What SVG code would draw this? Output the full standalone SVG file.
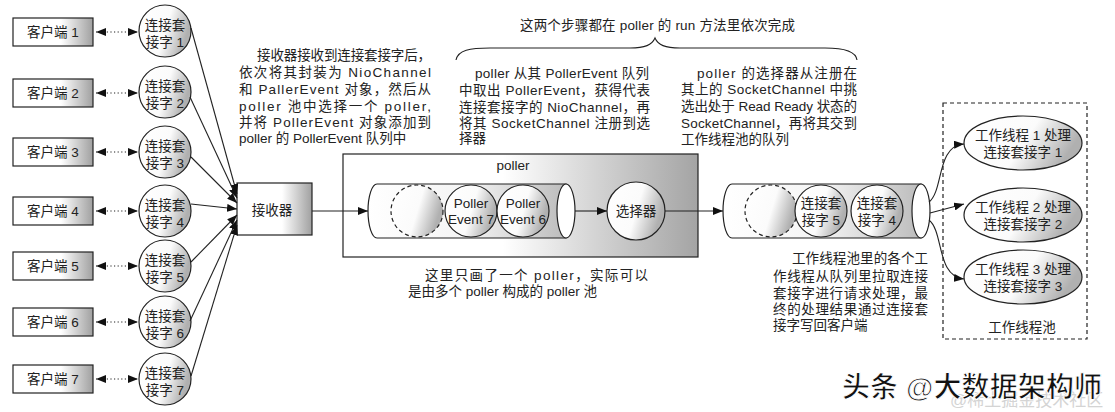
<svg xmlns="http://www.w3.org/2000/svg" width="1115" height="412" viewBox="0 0 1115 412">
<style>
text{font-family:"Liberation Sans","Noto Sans CJK SC",sans-serif;font-size:13.5px;fill:#222}
.c{text-anchor:middle}
.box{stroke:#222;stroke-width:1.2}
.ln{stroke:#222;stroke-width:1.1;fill:none}
.dot{stroke:#222;stroke-width:1.2;stroke-dasharray:1.2,2.4;fill:none}
.dash{stroke:#222;stroke-width:1.2;stroke-dasharray:4,3}
</style>
<defs>
<linearGradient id="gBox" x1="0" y1="0" x2="1" y2="0">
<stop offset="0" stop-color="#fff"/><stop offset="0.6" stop-color="#fff"/><stop offset="1" stop-color="#a0a0a0"/>
</linearGradient>
<linearGradient id="gCir" x1="0" y1="0" x2="1" y2="0.3">
<stop offset="0" stop-color="#fff"/><stop offset="0.6" stop-color="#fbfbfb"/><stop offset="1" stop-color="#b0b0b0"/>
</linearGradient>
<linearGradient id="gPoll" x1="0" y1="0" x2="1" y2="0">
<stop offset="0" stop-color="#fff"/><stop offset="0.45" stop-color="#fff"/><stop offset="1" stop-color="#a4a4a4"/>
</linearGradient>
<linearGradient id="gCyl" x1="0" y1="0" x2="1" y2="0">
<stop offset="0" stop-color="#fff"/><stop offset="0.5" stop-color="#f4f4f4"/><stop offset="1" stop-color="#bcbcbc"/>
</linearGradient>
<marker id="ah" viewBox="0 0 10 8" refX="10" refY="4" markerWidth="10" markerHeight="8" orient="auto-start-reverse" markerUnits="userSpaceOnUse">
<path d="M0,0 L10,4 L0,8 z" fill="#111"/>
</marker>
</defs>

<!-- texts -->
<g id="notes">
<text x="520" y="30" textLength="275" lengthAdjust="spacing">这两个步骤都在 poller 的 run 方法里依次完成</text>
<path class="ln" d="M456,60 C458,50 470,48 490,48 L630,48 C645,48 652,45 655,38 C658,45 665,48 680,48 L825,48 C845,48 856,52 857,60"/>

<text><tspan x="257" y="60" textLength="174" lengthAdjust="spacing">接收器接收到连接套接字后，</tspan><tspan x="239" y="77" textLength="192" lengthAdjust="spacing">依次将其封装为 NioChannel</tspan><tspan x="239" y="94" textLength="192" lengthAdjust="spacing">和 PallerEvent 对象，然后从</tspan><tspan x="239" y="111" textLength="192" lengthAdjust="spacing">poller 池中选择一个 poller,</tspan><tspan x="239" y="127" textLength="192" lengthAdjust="spacing">并将 PollerEvent 对象添加到</tspan><tspan x="239" y="143">poller 的 PollerEvent 队列中</tspan></text>

<text><tspan x="475" y="78" textLength="174" lengthAdjust="spacing">poller 从其 PollerEvent 队列</tspan><tspan x="459" y="95" textLength="191" lengthAdjust="spacing">中取出 PollerEvent，获得代表</tspan><tspan x="459" y="112" textLength="191" lengthAdjust="spacing">连接套接字的 NioChannel，再</tspan><tspan x="459" y="128" textLength="191" lengthAdjust="spacing">将其 SocketChannel 注册到选</tspan><tspan x="459" y="143">择器</tspan></text>

<text><tspan x="697" y="78" textLength="160" lengthAdjust="spacing">poller 的选择器从注册在</tspan><tspan x="681" y="94" textLength="176" lengthAdjust="spacing">其上的 SocketChannel 中挑</tspan><tspan x="681" y="111" textLength="176" lengthAdjust="spacing">选出处于 Read Ready 状态的</tspan><tspan x="681" y="128" textLength="176" lengthAdjust="spacing">SocketChannel，再将其交到</tspan><tspan x="681" y="144">工作线程池的队列</tspan></text>

<text><tspan x="425" y="280" textLength="223" lengthAdjust="spacing">这里只画了一个 poller，实际可以</tspan><tspan x="408" y="296">是由多个 poller 构成的 poller 池</tspan></text>

<text><tspan x="792" y="263" textLength="136" lengthAdjust="spacing">工作线程池里的各个工</tspan><tspan x="773" y="281" textLength="155" lengthAdjust="spacing">作线程从队列里拉取连接</tspan><tspan x="773" y="298" textLength="155" lengthAdjust="spacing">套接字进行请求处理，最</tspan><tspan x="773" y="314" textLength="155" lengthAdjust="spacing">终的处理结果通过连接套</tspan><tspan x="773" y="330">接字写回客户端</tspan></text>
</g>

<!-- clients -->
<g id="client1"><rect class="box" x="13" y="18" width="80" height="28" fill="url(#gBox)"/><text class="c" x="53" y="37">客户端 1</text></g>
<g id="client2"><rect class="box" x="13" y="79" width="80" height="28" fill="url(#gBox)"/><text class="c" x="53" y="98">客户端 2</text></g>
<g id="client3"><rect class="box" x="13" y="138" width="80" height="28" fill="url(#gBox)"/><text class="c" x="53" y="157">客户端 3</text></g>
<g id="client4"><rect class="box" x="13" y="197" width="80" height="28" fill="url(#gBox)"/><text class="c" x="53" y="216">客户端 4</text></g>
<g id="client5"><rect class="box" x="13" y="252" width="80" height="28" fill="url(#gBox)"/><text class="c" x="53" y="271">客户端 5</text></g>
<g id="client6"><rect class="box" x="13" y="308" width="80" height="28" fill="url(#gBox)"/><text class="c" x="53" y="327">客户端 6</text></g>
<g id="client7"><rect class="box" x="13" y="365" width="80" height="28" fill="url(#gBox)"/><text class="c" x="53" y="384">客户端 7</text></g>

<!-- sockets -->
<g id="socket1"><circle class="box" cx="165" cy="31" r="26" fill="url(#gCir)"/><text class="c"><tspan x="165" y="30">连接套</tspan><tspan x="165" y="47">接字 1</tspan></text></g>
<g id="socket2"><circle class="box" cx="165" cy="92" r="26" fill="url(#gCir)"/><text class="c"><tspan x="165" y="91">连接套</tspan><tspan x="165" y="108">接字 2</tspan></text></g>
<g id="socket3"><circle class="box" cx="165" cy="152" r="26" fill="url(#gCir)"/><text class="c"><tspan x="165" y="151">连接套</tspan><tspan x="165" y="168">接字 3</tspan></text></g>
<g id="socket4"><circle class="box" cx="165" cy="211" r="26" fill="url(#gCir)"/><text class="c"><tspan x="165" y="210">连接套</tspan><tspan x="165" y="227">接字 4</tspan></text></g>
<g id="socket5"><circle class="box" cx="165" cy="266" r="26" fill="url(#gCir)"/><text class="c"><tspan x="165" y="265">连接套</tspan><tspan x="165" y="282">接字 5</tspan></text></g>
<g id="socket6"><circle class="box" cx="165" cy="322" r="26" fill="url(#gCir)"/><text class="c"><tspan x="165" y="321">连接套</tspan><tspan x="165" y="338">接字 6</tspan></text></g>
<g id="socket7"><circle class="box" cx="165" cy="379" r="26" fill="url(#gCir)"/><text class="c"><tspan x="165" y="378">连接套</tspan><tspan x="165" y="395">接字 7</tspan></text></g>

<!-- acceptor -->
<g id="acceptor"><rect class="box" x="237" y="183" width="75" height="52" fill="url(#gBox)"/><text class="c" x="272" y="215">接收器</text></g>

<!-- poller -->
<g id="poller">
<rect class="box" x="343" y="154" width="355" height="103" fill="url(#gPoll)"/>
<text class="c" x="513" y="170">poller</text>
</g>
<g id="pollerQueue">
<path class="box" d="M377,184 H566 V238 H377 A9,27 0 0 1 377,184 Z" fill="url(#gCyl)"/>
<ellipse class="box" cx="566" cy="211" rx="9" ry="27" fill="#fff"/>
</g>
<g id="pollerEmpty"><circle class="dash" cx="417" cy="211" r="26" fill="url(#gCir)"/></g>
<g id="pollerEvent7"><circle class="box" cx="471" cy="211" r="26" fill="url(#gCir)"/><text class="c"><tspan x="471" y="208">Poller</tspan><tspan x="471" y="224">Event 7</tspan></text></g>
<g id="pollerEvent6"><circle class="box" cx="523" cy="211" r="26" fill="url(#gCir)"/><text class="c"><tspan x="523" y="208">Poller</tspan><tspan x="523" y="224">Event 6</tspan></text></g>
<g id="selector"><circle class="box" cx="636" cy="211" r="29" fill="url(#gCir)"/><text class="c" x="636" y="216">选择器</text></g>

<!-- worker queue -->
<g id="workerQueue">
<path class="box" d="M732,184 H921 V238 H732 A9,27 0 0 1 732,184 Z" fill="url(#gCyl)"/>
<ellipse class="box" cx="921" cy="211" rx="9" ry="27" fill="#fff"/>
</g>
<g id="queueEmpty"><circle class="dash" cx="771" cy="211" r="26" fill="url(#gCir)"/></g>
<g id="queueSocket5"><circle class="box" cx="821" cy="211" r="26" fill="url(#gCir)"/><text class="c"><tspan x="821" y="208">连接套</tspan><tspan x="821" y="225">接字 5</tspan></text></g>
<g id="queueSocket4"><circle class="box" cx="877" cy="211" r="26" fill="url(#gCir)"/><text class="c"><tspan x="877" y="208">连接套</tspan><tspan x="877" y="225">接字 4</tspan></text></g>

<!-- worker pool -->
<g id="workerPool">
<rect class="dash" x="943" y="103" width="144" height="236" fill="none"/>
<text class="c" x="1022" y="332">工作线程池</text>
</g>
<g id="worker1"><ellipse class="box" cx="1023" cy="143" rx="59" ry="27" fill="url(#gCir)"/><text class="c"><tspan x="1023" y="140">工作线程 1 处理</tspan><tspan x="1023" y="157">连接套接字 1</tspan></text></g>
<g id="worker2"><ellipse class="box" cx="1023" cy="215" rx="59" ry="27" fill="url(#gCir)"/><text class="c"><tspan x="1023" y="212">工作线程 2 处理</tspan><tspan x="1023" y="229">连接套接字 2</tspan></text></g>
<g id="worker3"><ellipse class="box" cx="1023" cy="277" rx="59" ry="27" fill="url(#gCir)"/><text class="c"><tspan x="1023" y="274">工作线程 3 处理</tspan><tspan x="1023" y="291">连接套接字 3</tspan></text></g>

<!-- connectors -->
<g id="connectors">
<line class="dot" x1="96" y1="32" x2="138" y2="32" marker-start="url(#ah)" marker-end="url(#ah)"/>
<line class="dot" x1="96" y1="93" x2="138" y2="93" marker-start="url(#ah)" marker-end="url(#ah)"/>
<line class="dot" x1="96" y1="152" x2="138" y2="152" marker-start="url(#ah)" marker-end="url(#ah)"/>
<line class="dot" x1="96" y1="211" x2="138" y2="211" marker-start="url(#ah)" marker-end="url(#ah)"/>
<line class="dot" x1="96" y1="266" x2="138" y2="266" marker-start="url(#ah)" marker-end="url(#ah)"/>
<line class="dot" x1="96" y1="322" x2="138" y2="322" marker-start="url(#ah)" marker-end="url(#ah)"/>
<line class="dot" x1="96" y1="379" x2="138" y2="379" marker-start="url(#ah)" marker-end="url(#ah)"/>

<line class="ln" x1="191" y1="28" x2="237" y2="194" marker-end="url(#ah)"/>
<line class="ln" x1="190" y1="97" x2="237" y2="198" marker-end="url(#ah)"/>
<line class="ln" x1="191" y1="157" x2="237" y2="203" marker-end="url(#ah)"/>
<line class="ln" x1="191" y1="204" x2="237" y2="209" marker-end="url(#ah)"/>
<line class="ln" x1="191" y1="262" x2="237" y2="215" marker-end="url(#ah)"/>
<line class="ln" x1="190" y1="321" x2="237" y2="220" marker-end="url(#ah)"/>
<line class="ln" x1="191" y1="376" x2="237" y2="225" marker-end="url(#ah)"/>

<line class="ln" x1="312" y1="211" x2="368" y2="211" marker-end="url(#ah)"/>
<line class="ln" x1="575" y1="211" x2="607" y2="211" marker-end="url(#ah)"/>
<line class="ln" x1="665" y1="211" x2="723" y2="211" marker-end="url(#ah)"/>

<path class="ln" d="M929,202 C944,190 936,146 964,144" marker-end="url(#ah)"/>
<path class="ln" d="M930,213 L964,204" marker-end="url(#ah)"/>
<path class="ln" d="M929,220 C944,232 936,276 964,279" marker-end="url(#ah)"/>
</g>

<!-- watermark -->
<g id="watermark">
<text style="font-weight:bold"><tspan x="950" y="406" style="font-size:17px;fill:#d4d4d4;font-weight:normal">@稀土掘金技术社区</tspan><tspan x="842" y="397" textLength="260" lengthAdjust="spacing" style="font-size:28px;fill:#111;stroke:#fff;stroke-width:1">头条 @大数据架构师</tspan></text>
</g>
</svg>
